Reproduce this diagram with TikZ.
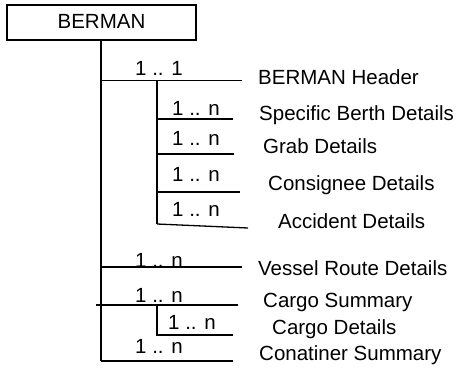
\documentclass[tikz,border=0pt]{standalone}
\usepackage{fontspec}
\setmainfont{Liberation Sans}
\begin{document}
\begin{tikzpicture}[x=1pt,y=-1pt,
  lbl/.style={anchor=base west,inner sep=0pt,font=\fontsize{20.5}{24}\selectfont},
  ln/.style={line width=1.3pt}]
\useasboundingbox (0,0) rectangle (464,375);
% root box
\draw[ln] (7,5) rectangle (196,40);
\node[anchor=base,inner sep=0pt,font=\fontsize{20.5}{24}\selectfont] (root) at (101.5,28.5) {BERMAN};
\coordinate (rootb) at (101,40);
% main vertical
\coordinate (mvEnd) at (101,361);
\draw[ln] (rootb) -- (mvEnd);
% 1..1 header
\coordinate (hA) at (101,80.5);
\coordinate (hB) at (242,80.5);
\draw[ln] (hA) -- (hB);
\node[lbl] (m1) at (135,75) {1 .. 1};
\node[lbl] (hdr) at (258,84) {BERMAN Header};
% sub vertical
\coordinate (svA) at (157,80.5);
\coordinate (svB) at (157,224);
\draw[ln] (svA) -- (svB);
\coordinate (sbA) at (157,119); \coordinate (sbB) at (233,119);
\draw[ln] (sbA) -- (sbB);
\node[lbl] (m2) at (172,115) {1 .. n};
\node[lbl] (sbd) at (259,120) {Specific Berth Details};
\coordinate (grA) at (157,154); \coordinate (grB) at (234,154);
\draw[ln] (grA) -- (grB);
\node[lbl] (m3) at (172,145) {1 .. n};
\node[lbl] (grd) at (263,153) {Grab Details};
\coordinate (coA) at (157,192); \coordinate (coB) at (240,192);
\draw[ln] (coA) -- (coB);
\node[lbl] (m4) at (172,181) {1 .. n};
\node[lbl] (cod) at (268,190) {Consignee Details};
\coordinate (acB) at (248,228);
\draw[ln] (svB) -- (acB);
\node[lbl] (m5) at (172,216.5) {1 .. n};
\node[lbl] (acd) at (278,228) {Accident Details};
% vessel route
\coordinate (vrA) at (101,267); \coordinate (vrB) at (242,267);
\draw[ln] (vrA) -- (vrB);
\node[lbl] (m6) at (135,267) {1 .. n};
\node[lbl] (vrd) at (258,275) {Vessel Route Details};
% cargo summary
\coordinate (csA) at (96,305); \coordinate (csB) at (238,305);
\draw[ln] (csA) -- (csB);
\node[lbl] (m7) at (135,302.5) {1 .. n};
\node[lbl] (csd) at (263,307) {Cargo Summary};
% cargo details
\coordinate (cdA) at (157,305); \coordinate (cdC) at (157,335); \coordinate (cdB) at (233,335);
\draw[ln] (cdA) -- (cdC) -- (cdB);
\node[lbl] (m8) at (168,329) {1 .. n};
\node[lbl] (cdd) at (272,334) {Cargo Details};
% container summary
\coordinate (ctB) at (233,361);
\draw[ln] (mvEnd) -- (ctB);
\node[lbl] (m9) at (135,353) {1 .. n};
\node[lbl] (ctd) at (259,360) {Conatiner Summary};
\end{tikzpicture}
\end{document}
